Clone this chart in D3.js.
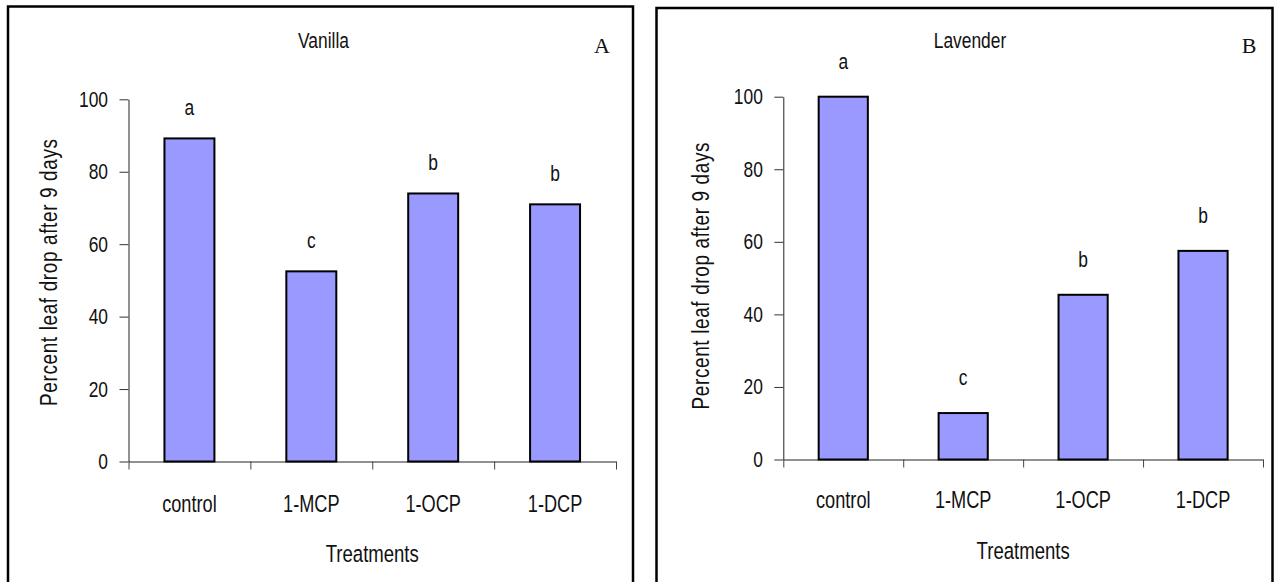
<!DOCTYPE html>
<html>
<head>
<meta charset="utf-8">
<script src="https://cdn.jsdelivr.net/npm/d3@7"></script>
<style>
  html, body { margin: 0; padding: 0; background: #fff; }
  svg { display: block; }
  text { font-family: "Liberation Sans", Arial, sans-serif; fill: #111; }
  .panel-tag { font-family: "Liberation Serif", "Times New Roman", serif; }
</style>
</head>
<body>
<svg id="chart" width="1281" height="582"></svg>
<script>
// Treatments shared by both panels
const treatments = ["control", "1-MCP", "1-OCP", "1-DCP"];

// Percent leaf drop after 9 days
const vanillaValues = [89.2, 52.5, 74, 71];
const lavenderValues = [100, 12.8, 45.4, 57.5];

// Mean-separation letters above each bar
const vanillaLetters = ["a", "c", "b", "b"];
const lavenderLetters = ["a", "c", "b", "b"];

// Y axis ticks
const yTicks = [0, 20, 40, 60, 80, 100];

const panelTitles = ["Vanilla", "Lavender"];
const panelTags = ["A", "B"];
const xAxisTitle = "Treatments";
const yAxisTitle = "Percent leaf drop after 9 days";

// horizontal squeeze that gives the sans text a narrow face
const NARROW = 0.79;

const svg = d3.select("#chart");
svg.append("rect").attr("width", 1281).attr("height", 582).attr("fill", "#fff");

// place a narrow text label at (x, y), optionally rotated
function narrowText(parent, x, y, str, size, rotate) {
  const t = parent.append("text")
    .attr("transform", `translate(${x},${y})${rotate ? ` rotate(${rotate})` : ""} scale(${NARROW},1)`)
    .attr("text-anchor", "middle")
    .attr("font-size", size)
    .text(str);
  return t;
}

function drawPanel(opts) {
  const g = svg.append("g");

  // panel frame (bottom edge runs past the page)
  g.append("rect")
    .attr("x", opts.frame[0]).attr("y", opts.frame[1])
    .attr("width", opts.frame[2] - opts.frame[0])
    .attr("height", 620)
    .attr("fill", "none").attr("stroke", "#000").attr("stroke-width", 2.5);

  const x = d3.scaleBand()
    .domain(treatments)
    .range([opts.x0, opts.x1])
    .paddingInner(0.59)
    .paddingOuter(0.295);

  const y = d3.scaleLinear().domain([0, 100]).range([opts.yBase, opts.yTop]);

  // y axis
  const yAxis = g.append("g")
    .attr("transform", `translate(${opts.x0},0)`)
    .call(d3.axisLeft(y).tickValues(yTicks).tickSize(9).tickPadding(11.5).tickSizeOuter(0));
  yAxis.select(".domain").attr("stroke", "#222");
  yAxis.selectAll(".tick line").attr("stroke", "#333");
  yAxis.selectAll(".tick text")
    .attr("font-size", 22).attr("fill", "#111")
    .style("font-family", '"Liberation Sans", Arial, sans-serif')
    .attr("x", -(9 + 11.5) / NARROW)
    .attr("transform", `scale(${NARROW},1)`);

  // x axis: baseline with tick marks at the category boundaries
  const edge = d3.scaleLinear().domain([0, treatments.length]).range([opts.x0, opts.x1]);
  const xAxis = g.append("g")
    .attr("transform", `translate(0,${opts.yBase})`)
    .call(d3.axisBottom(edge).ticks(treatments.length).tickSize(8).tickFormat("").tickSizeOuter(0));
  xAxis.select(".domain").attr("stroke", "#222");
  xAxis.selectAll(".tick line").attr("stroke", "#444");

  // category labels
  treatments.forEach(d => narrowText(g, x(d) + x.bandwidth() / 2, opts.catY, d, 23));

  // bars
  g.append("g").selectAll("rect")
    .data(opts.values)
    .join("rect")
    .attr("x", (d, i) => x(treatments[i]))
    .attr("y", d => y(d))
    .attr("width", x.bandwidth())
    .attr("height", d => y(0) - y(d))
    .attr("fill", "#9999ff")
    .attr("stroke", "#000")
    .attr("stroke-width", 2);

  // letters above the bars
  opts.values.forEach((v, i) =>
    narrowText(g, x(treatments[i]) + x.bandwidth() / 2, y(v) - opts.letterGap, opts.letters[i], 22));

  // titles
  narrowText(g, opts.titleX, 48, opts.title, 22);

  g.append("text")
    .attr("class", "panel-tag")
    .attr("x", opts.tagX).attr("y", 52.5)
    .attr("text-anchor", "middle")
    .attr("font-size", 22)
    .text(opts.tag);

  narrowText(g, (opts.x0 + opts.x1) / 2, opts.xTitleY, xAxisTitle, 23.5);

  narrowText(g, opts.yTitleX, opts.yTitleY, yAxisTitle, 24, -90)
    .attr("textLength", 267 / NARROW)
    .attr("lengthAdjust", "spacing");
}

drawPanel({
  frame: [8, 6.5, 633],
  x0: 128.5, x1: 616, yBase: 461.5, yTop: 99.3,
  values: vanillaValues, letters: vanillaLetters, letterGap: 23,
  title: panelTitles[0], titleX: 323.5, tag: panelTags[0], tagX: 602,
  catY: 511.5, xTitleY: 562, yTitleX: 57, yTitleY: 272.5
});

drawPanel({
  frame: [656.5, 8, 1272.5],
  x0: 783.3, x1: 1263, yBase: 459.5, yTop: 96.7,
  values: lavenderValues, letters: lavenderLetters, letterGap: 28,
  title: panelTitles[1], titleX: 970, tag: panelTags[1], tagX: 1249,
  catY: 507.5, xTitleY: 559, yTitleX: 709, yTitleY: 276
});
</script>
</body>
</html>
